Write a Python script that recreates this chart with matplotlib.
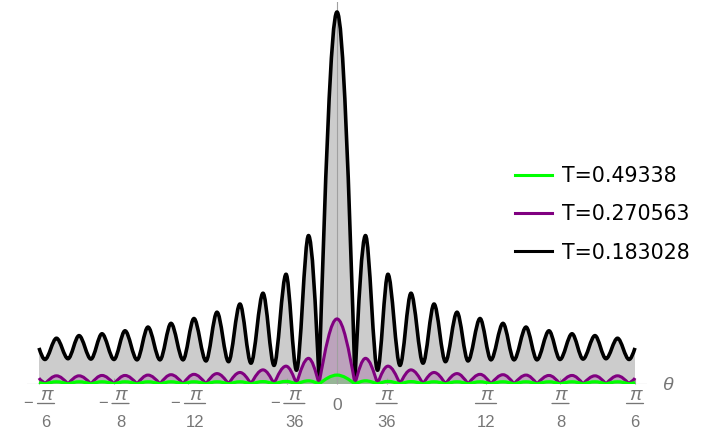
import numpy as np
import matplotlib
matplotlib.use("Agg")
import matplotlib.pyplot as plt
from matplotlib.path import Path
from matplotlib.patches import PathPatch
from matplotlib.lines import Line2D
from matplotlib.transforms import offset_copy

# ---------------- data ----------------
# angles (degrees) of alternating extrema on the right half (peak, trough, peak, ...),
# the last entry is the end of the plotted range; the left half is the mirror image
theta_deg = [0.0, 1.81, 2.87, 4.08, 5.13, 6.34, 7.45, 8.66, 9.77, 10.92, 12.08,
             13.19, 14.40, 15.50, 16.71, 17.82, 19.03, 20.13, 21.34, 22.45,
             23.66, 24.77, 25.97, 27.08, 28.24, 29.40, 30.0]

labels = ["T=0.49338", "T=0.270563", "T=0.183028"]

# relative intensity at those angles
green_vals = [0.024, 0.0, 0.0085, 0.0, 0.007, 0.0, 0.0065, 0.0, 0.006, 0.0, 0.006,
              0.0, 0.006, 0.0, 0.006, 0.0, 0.006, 0.0, 0.006, 0.0, 0.006, 0.0,
              0.006, 0.0, 0.006, 0.0, 0.004]
purple_vals = [0.175, 0.0, 0.069, 0.0, 0.048, 0.0, 0.038, 0.0, 0.031, 0.0, 0.028,
               0.0, 0.026, 0.0, 0.025, 0.0, 0.024, 0.0, 0.023, 0.0, 0.023, 0.0,
               0.022, 0.0, 0.022, 0.0, 0.016]
black_vals = [1.000, 0.011, 0.399, 0.037, 0.295, 0.050, 0.244, 0.056, 0.215, 0.060,
              0.193, 0.062, 0.176, 0.065, 0.163, 0.065, 0.153, 0.065, 0.143, 0.066,
              0.135, 0.067, 0.130, 0.068, 0.123, 0.066, 0.097]

# extrema that are cusps (|f| touching zero) rather than rounded
green_cusp = [0] + [1, 0] * 12 + [1, 1]
purple_cusp = [0] + [1, 0] * 12 + [1, 1]
black_cusp = [0, 1] + [0] * 24 + [1]

tick_vals = [-np.pi / 6, -np.pi / 8, -np.pi / 12, -np.pi / 36, 0,
             np.pi / 36, np.pi / 12, np.pi / 8, np.pi / 6]
tick_labels = ["−π/6", "−π/8", "−π/12", "−π/36", "0", "π/36", "π/12", "π/8", "π/6"]

colors = ["#00ff00", "#800080", "#000000"]

# ---------------- style ----------------
plt.rcParams["mathtext.fontset"] = "custom"
plt.rcParams["mathtext.rm"] = "Liberation Sans"
plt.rcParams["mathtext.it"] = "Liberation Sans:italic"
plt.rcParams["mathtext.bf"] = "Liberation Sans:bold"
plt.rcParams["font.family"] = ["DejaVu Sans"]

K = np.pi / 2  # tangent factor for a sine-like cusp


def curve_path(th_half, v_half, cusp_half):
    th = np.concatenate([-np.asarray(th_half)[:0:-1], th_half])
    v = np.concatenate([np.asarray(v_half)[:0:-1], v_half])
    c = np.concatenate([np.asarray(cusp_half)[:0:-1], cusp_half])
    x = np.deg2rad(th)
    verts = [(x[0], v[0])]
    codes = [Path.MOVETO]
    for i in range(len(x) - 1):
        dx = x[i + 1] - x[i]
        sec = (v[i + 1] - v[i]) / dx
        s0 = K * sec if c[i] else 0.0
        s1 = K * sec if c[i + 1] else 0.0
        verts += [(x[i] + dx / 3, v[i] + s0 * dx / 3),
                  (x[i + 1] - dx / 3, v[i + 1] - s1 * dx / 3),
                  (x[i + 1], v[i + 1])]
        codes += [Path.CURVE4] * 3
    line = Path(verts, codes)
    fverts = verts + [(x[-1], 0.0), (x[0], 0.0), (x[0], 0.0)]
    fcodes = codes + [Path.LINETO, Path.LINETO, Path.CLOSEPOLY]
    fill = Path(fverts, fcodes)
    return line, fill


W, H = 706, 433
fig = plt.figure(figsize=(W / 100, H / 100), dpi=100)
ax = fig.add_axes([27 / W, 49 / H, 620 / W, 382 / H])
xmax = (310 / 298) * np.pi / 6
ax.set_xlim(-xmax, xmax)
ax.set_ylim(0, 382 / 372)
for s in ax.spines.values():
    s.set_visible(False)
ax.set_yticks([])

series = [(black_vals, black_cusp, colors[2], 2.6),
          (purple_vals, purple_cusp, colors[1], 2.2),
          (green_vals, green_cusp, colors[0], 2.3)]

paths = []
for vals, cusp, col, lw in series:
    line, fill = curve_path(theta_deg, vals, cusp)
    ax.add_patch(PathPatch(fill, facecolor=col, alpha=0.2, edgecolor="none", zorder=1))
    paths.append((line, col, lw))

ax.axhline(0, color="#a0a0a0", lw=0.8, zorder=1.6)
ax.axvline(0, color="#a0a0a0", lw=0.8, zorder=1.6)

for line, col, lw in paths:
    ax.add_patch(PathPatch(line, facecolor="none", edgecolor=col, lw=lw,
                           joinstyle="round", capstyle="butt", zorder=2))

ax.set_xticks(tick_vals)
ax.set_xticklabels([""] * len(tick_vals))
ax.tick_params(axis="x", direction="in", length=4, width=0.8, color="#a0a0a0")

# ---------------- Mathematica-like tick labels (stacked fractions) ----------------
gray = "#767676"
tfont = "Liberation Sans"


def put(text, tick, dx, dy, va, size=12, style="normal"):
    ax.annotate(text, xy=(tick, 0), xycoords="data", xytext=(dx, dy),
                textcoords="offset pixels", ha="center", va=va, fontsize=size,
                color=gray, family=tfont, style=style, annotation_clip=False)


for tv, tl in zip(tick_vals, tick_labels):
    if "/" not in tl:
        put(tl, tv, 0, -26, "baseline", size=12.5)
        continue
    neg = tl.startswith("−")
    num, den = tl.lstrip("−").split("/")
    w = 17 if len(den) == 1 else 21
    cx = 7 if neg else 0
    put(num, tv, cx, -16, "baseline", size=13.5, style="italic")
    put(den, tv, cx, -43, "baseline")
    ax.annotate("", xy=(tv, 0),
                xycoords=offset_copy(ax.transData, fig=fig, x=cx - w / 2, y=-19.5, units="dots"),
                xytext=(tv, 0),
                textcoords=offset_copy(ax.transData, fig=fig, x=cx + w / 2, y=-19.5, units="dots"),
                arrowprops=dict(arrowstyle="-", color=gray, lw=0.95, shrinkA=0, shrinkB=0),
                annotation_clip=False)
    if neg:
        put("−", tv, cx - w / 2 - 9, -24, "baseline")

ax.annotate(r"$\theta$", xy=(1, 0), xycoords="axes fraction", xytext=(21, 0),
            textcoords="offset pixels", ha="center", va="center",
            fontsize=14, color=gray)

handles = [Line2D([], [], color=c, lw=2.2) for c in colors]
fs = 14.8
fpx = fs * 100 / 72
leg = ax.legend(handles, labels, frameon=False, fontsize=fs,
                handlelength=37 / fpx, handletextpad=10 / fpx,
                labelspacing=0.89, borderpad=0, borderaxespad=0,
                loc="upper left", bbox_to_anchor=(515 / W, 1 - 166 / H),
                bbox_transform=fig.transFigure)

fig.savefig("out.png", dpi=100)
